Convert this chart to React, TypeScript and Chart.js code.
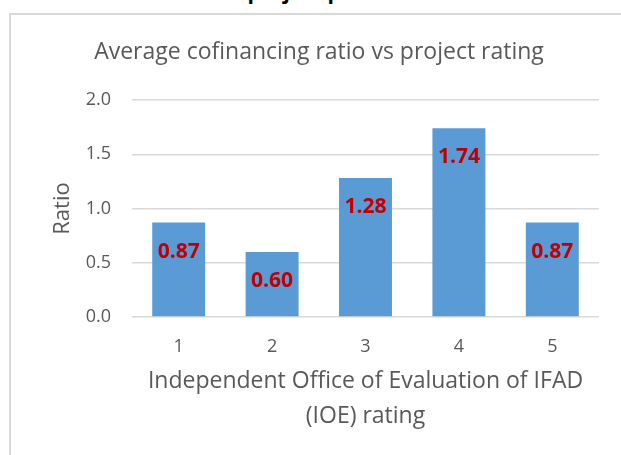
import React, { useEffect, useRef } from "react";
import { Chart, registerables } from "chart.js";

Chart.register(...registerables);

const headerText = "Correlation between project performance and total cofinancing";
const chartTitle = "Average cofinancing ratio vs project rating";
const categories = ["1", "2", "3", "4", "5"];
const ratios = [0.87, 0.6, 1.28, 1.74, 0.87];
const ratioLabels = ["0.87", "0.60", "1.28", "1.74", "0.87"];
const yTicks = [0, 0.5, 1.0, 1.5, 2.0];
const yTitle = "Ratio";
const xTitle = ["Independent Office of Evaluation of IFAD", "(IOE) rating"];

const FONT = "'Open Sans', 'Noto Sans', sans-serif";

const labelPlugin = {
  id: "barLabels",
  afterDatasetsDraw(chart: any) {
    const ctx = chart.ctx;
    const meta = chart.getDatasetMeta(0);
    ctx.save();
    ctx.font = `bold 21px ${FONT}`;
    ctx.fillStyle = "#C00000";
    ctx.textAlign = "center";
    ctx.textBaseline = "alphabetic";
    meta.data.forEach((bar: any, i: number) => {
      ctx.fillText(ratioLabels[i], bar.x, bar.y + 35);
    });
    ctx.restore();
  },
};

export default function App() {
  const ref = useRef<HTMLCanvasElement | null>(null);
  useEffect(() => {
    if (!ref.current) return;
    const chart = new Chart(ref.current, {
      type: "bar",
      data: {
        labels: categories,
        datasets: [
          {
            data: ratios,
            backgroundColor: "#5B9BD5",
            borderWidth: 0,
            categoryPercentage: 1,
            barPercentage: 0.567,
          },
        ],
      },
      options: {
        animation: false,
        responsive: false,
        maintainAspectRatio: false,
        layout: { padding: { left: 0, right: 0, top: 0, bottom: 0 } },
        plugins: {
          legend: { display: false },
          tooltip: { enabled: false },
          title: {
            display: true,
            text: chartTitle,
            color: "#595959",
            font: { family: FONT, size: 23, weight: "normal", lineHeight: 1.2 },
            padding: { top: 23.5, bottom: 33.9 },
          },
        },
        scales: {
          x: {
            grid: { display: false, drawTicks: false },
            border: { display: false },
            ticks: {
              color: "#595959",
              font: { family: FONT, size: 18 },
              padding: 19,
            },
            title: {
              display: true,
              text: xTitle,
              color: "#595959",
              font: { family: FONT, size: 23, lineHeight: 1.5 },
              padding: { top: 0, bottom: 21.5 },
            },
            afterFit(scale: any) {
              scale.height = 138;
            },
          },
          y: {
            min: 0,
            max: 2,
            afterBuildTicks(scale: any) {
              scale.ticks = yTicks.map((v) => ({ value: v }));
            },
            grid: { color: "#D9D9D9", lineWidth: 1.5, drawTicks: false },
            border: { display: false },
            ticks: {
              color: "#595959",
              font: { family: FONT, size: 18 },
              padding: 21,
              callback: (v: any) => Number(v).toFixed(1),
            },
            title: {
              display: true,
              text: yTitle,
              color: "#595959",
              font: { family: FONT, size: 22, lineHeight: 1.2 },
              padding: { top: 10.3, bottom: 0 },
            },
            afterFit(scale: any) {
              scale.width = 93;
            },
          },
        },
      },
      plugins: [labelPlugin],
    });
    return () => chart.destroy();
  }, []);

  return (
    <div
      style={{
        position: "fixed",
        left: 0,
        top: 0,
        width: 621,
        height: 455,
        overflow: "hidden",
        background: "#ffffff",
      }}
    >
      <div
        style={{
          position: "absolute",
          left: 26,
          top: -19,
          whiteSpace: "nowrap",
          fontFamily: FONT,
          fontWeight: "bold",
          fontSize: 21,
          lineHeight: "21px",
          color: "#000",
        }}
      >
        {headerText}
      </div>
      <div
        style={{
          position: "absolute",
          left: 9,
          top: 13,
          width: 700,
          height: 500,
          border: "2px solid #D9D9D9",
          boxSizing: "border-box",
        }}
      />
      <canvas
        ref={ref}
        width={560}
        height={440}
        style={{ position: "absolute", left: 39, top: 15, width: 560, height: 440 }}
      />
    </div>
  );
}
